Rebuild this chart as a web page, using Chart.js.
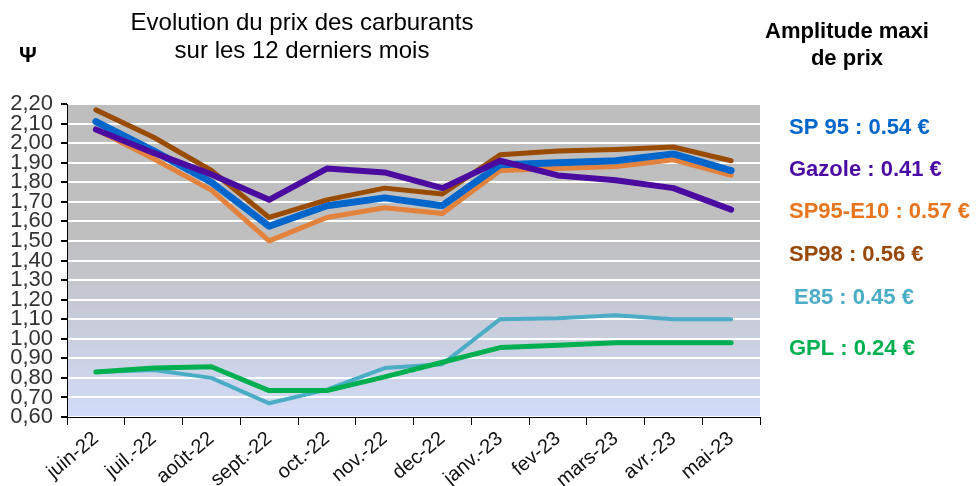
<!DOCTYPE html>
<html>
<head>
<meta charset="utf-8">
<script src="https://cdn.jsdelivr.net/npm/chart.js@4"></script>
<style>
  html, body { margin: 0; padding: 0; background: #fff; }
  #wrap { width: 977px; height: 486px; position: relative; }
</style>
</head>
<body>
<div id="wrap"><canvas id="chart" width="977" height="486"></canvas></div>
<script>
// Months (x categories)
const months = ['juin-22', 'juil.-22', 'août-22', 'sept.-22', 'oct.-22', 'nov.-22',
                'dec-22', 'janv.-23', 'fev-23', 'mars-23', 'avr.-23', 'mai-23'];

// Prices in euros
const sp95   = [2.11, 1.96, 1.80, 1.575, 1.68, 1.72, 1.68, 1.89, 1.90, 1.91, 1.945, 1.86];
const gazole = [2.07, 1.95, 1.84, 1.71, 1.87, 1.85, 1.77, 1.91, 1.835, 1.81, 1.77, 1.66];
const sp95e10 = [2.07, 1.92, 1.76, 1.50, 1.62, 1.67, 1.64, 1.86, 1.87, 1.88, 1.915, 1.835];
const sp98   = [2.17, 2.03, 1.86, 1.62, 1.71, 1.77, 1.74, 1.94, 1.96, 1.967, 1.98, 1.91];
const e85    = [0.83, 0.84, 0.80, 0.67, 0.74, 0.85, 0.87, 1.10, 1.105, 1.12, 1.10, 1.10];
const gpl    = [0.83, 0.85, 0.857, 0.735, 0.735, 0.805, 0.88, 0.955, 0.967, 0.98, 0.98, 0.98];

// Y axis range
const yMin = 0.60;
const yMax = 2.20;
const yStep = 0.10;

// Side notes (max price amplitude)
const amplitudeTitle = ['Amplitude maxi', 'de prix'];
const amplitudeLabels = ['SP 95 : 0.54 €', 'Gazole : 0.41 €', 'SP95-E10 : 0.57 €',
                         'SP98 : 0.56 €', 'E85 : 0.45 €', 'GPL : 0.24 €'];
const amplitudeColors = ['#0066CC', '#4B0BA3', '#E8761E', '#984807', '#4BACC6', '#00B050'];
const amplitudePos = [[789, 128], [789, 170], [789, 212], [789, 255], [794, 298], [789, 349]];

const titleLines = ['Evolution du prix des carburants', 'sur les 12 derniers mois'];

const FONT = '"Liberation Sans", Arial, sans-serif';

// Gradient background for the plot area
const bgPlugin = {
    id: 'bgPlugin',
    beforeDraw(chart) {
        const { ctx, chartArea: a } = chart;
        const g = ctx.createLinearGradient(0, a.top, 0, a.bottom);
        g.addColorStop(0, '#bebebe');
        g.addColorStop(0.42, '#bfbfbf');
        g.addColorStop(1, '#d2dbf7');
        ctx.save();
        ctx.fillStyle = g;
        ctx.fillRect(a.left, a.top, a.right - a.left, a.bottom - a.top);
        ctx.restore();
    }
};

// Titles and side notes
const textPlugin = {
    id: 'textPlugin',
    afterDraw(chart) {
        const ctx = chart.ctx;
        ctx.save();
        ctx.textBaseline = 'middle';

        ctx.fillStyle = '#000';
        ctx.textAlign = 'center';
        ctx.font = '24px ' + FONT;
        ctx.fillText(titleLines[0], 302, 23);
        ctx.fillText(titleLines[1], 302, 51);

        ctx.font = 'bold 22px ' + FONT;
        ctx.fillText('Ψ', 28, 56);

        ctx.font = 'bold 22px ' + FONT;
        ctx.fillText(amplitudeTitle[0], 847, 32);
        ctx.fillText(amplitudeTitle[1], 847, 59);

        ctx.textAlign = 'left';
        ctx.font = 'bold 22px ' + FONT;
        amplitudeLabels.forEach((t, i) => {
            ctx.fillStyle = amplitudeColors[i];
            ctx.fillText(t, amplitudePos[i][0], amplitudePos[i][1]);
        });
        ctx.restore();
    }
};

function line(label, data, color, width, order) {
    return {
        label: label,
        data: data,
        borderColor: color,
        backgroundColor: color,
        borderWidth: width,
        pointRadius: 0,
        pointHoverRadius: 0,
        tension: 0,
        fill: false,
        borderCapStyle: 'round',
        borderJoinStyle: 'round',
        order: order
    };
}

new Chart(document.getElementById('chart'), {
    type: 'line',
    data: {
        labels: months,
        datasets: [
            line('Gazole', gazole, '#4B0AA0', 6, 1),
            line('SP98', sp98, '#994C00', 5, 2),
            line('SP 95', sp95, '#0066CC', 7, 3),
            line('SP95-E10', sp95e10, '#E2823C', 5, 4),
            line('GPL', gpl, '#00B050', 5, 5),
            line('E85', e85, '#4BACC6', 4, 6)
        ]
    },
    options: {
        responsive: false,
        animation: false,
        events: [],
        layout: { padding: { top: 104, right: 217, left: 0, bottom: 0 } },
        plugins: {
            legend: { display: false },
            tooltip: { enabled: false },
            title: { display: false }
        },
        scales: {
            x: {
                offset: true,
                grid: {
                    offset: true,
                    drawOnChartArea: false,
                    drawTicks: true,
                    tickLength: 8,
                    tickColor: '#000'
                },
                border: { display: true, color: '#000', width: 1 },
                ticks: {
                    autoSkip: false,
                    maxRotation: 40,
                    minRotation: 40,
                    padding: 2,
                    color: '#111',
                    font: { family: FONT, size: 20 }
                },
                afterFit(scale) { scale.height = 69; }
            },
            y: {
                min: yMin,
                max: yMax,
                grid: {
                    color: '#ffffff',
                    lineWidth: 2,
                    drawTicks: true,
                    tickLength: 6,
                    tickColor: '#000'
                },
                border: { display: true, color: '#000', width: 1 },
                ticks: {
                    autoSkip: false,
                    stepSize: yStep,
                    padding: 8,
                    color: '#333',
                    font: { family: FONT, size: 22 },
                    callback: v => v.toFixed(2).replace('.', ',')
                },
                afterFit(scale) { scale.width = 67; }
            }
        }
    },
    plugins: [bgPlugin, textPlugin]
});
</script>
</body>
</html>
